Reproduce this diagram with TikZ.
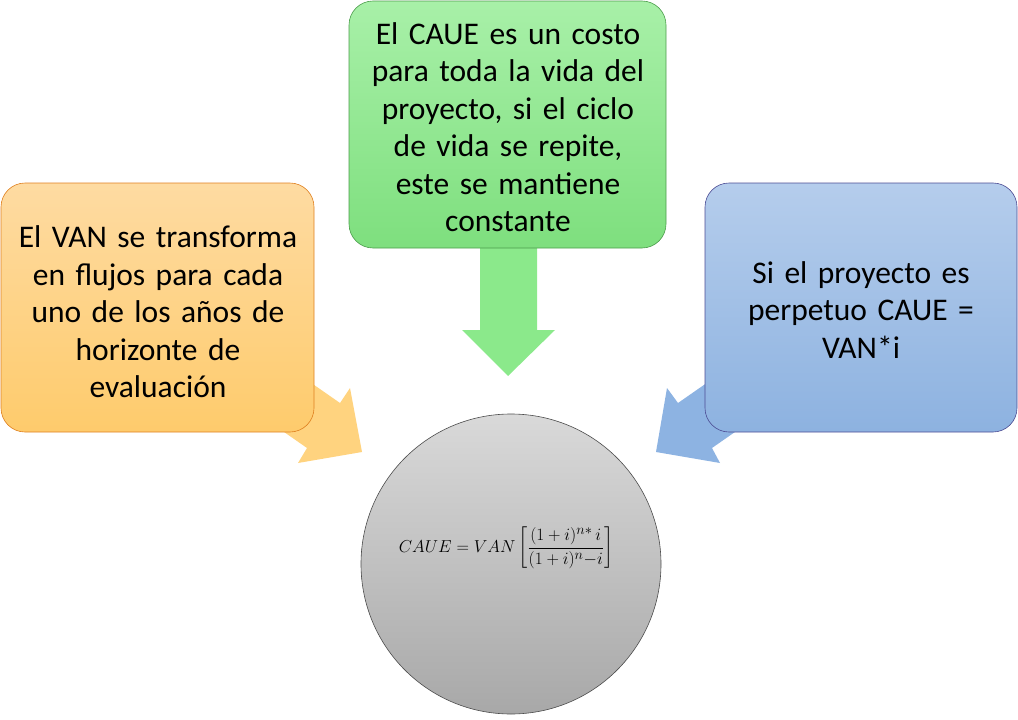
\documentclass[tikz,border=0pt]{standalone}
\usepackage{fontspec}
\setmainfont{Carlito}
\usepackage{amsmath}
\begin{document}
\begin{tikzpicture}[x=1pt,y=-1pt,
  box/.style={rounded corners=24pt, line width=0.6pt, inner sep=0pt},
  boxtext/.style={text width=310pt, align=center, inner sep=0pt,
    font=\fontsize{31.5}{37.5}\selectfont},
  orangebox/.style={box, draw=orange!50!brown, top color=orangetop, bottom color=orangebot},
  greenbox/.style={box, draw=green!45!black!70, top color=greentop, bottom color=greenbot},
  bluebox/.style={box, draw=blue!40!black!70, top color=bluetop, bottom color=bluebot},
]
\definecolor{orangetop}{HTML}{FEDBA2}
\definecolor{orangebot}{HTML}{FECB6C}
\definecolor{greentop}{HTML}{A8F0A8}
\definecolor{greenbot}{HTML}{7EDF7E}
\definecolor{bluetop}{HTML}{B5CDEC}
\definecolor{bluebot}{HTML}{8DB2E0}
\definecolor{orangearr}{HTML}{FFD37F}
\definecolor{greenarr}{HTML}{8BE98B}
\definecolor{bluearr}{HTML}{8DB3E2}
\definecolor{circtop}{HTML}{D9D9D9}
\definecolor{circbot}{HTML}{A8A8A8}
\useasboundingbox (0,0) rectangle (1018,720);
% arrows
\fill[orangearr] (274,357) -- (340,403) -- (350,388) -- (362,452) -- (298,463) -- (307,448) -- (241,402) -- cycle;
\fill[bluearr] (744,357) -- (678,403) -- (667,388) -- (656,452) -- (720,463) -- (712,448) -- (778,402) -- cycle;
\fill[greenarr] (480,240) -- (537,240) -- (537,330) -- (555,330) -- (508,376) -- (462,330) -- (480,330) -- cycle;
% boxes
\node[orangebox, minimum width=313pt, minimum height=249pt] (van) at (157.5,307.5) {};
\node[boxtext] (vantext) at (158,312)
  {El VAN se transforma\\en flujos para cada\\uno de los años de\\horizonte de\\evaluación};
\node[greenbox, minimum width=317pt, minimum height=247pt] (caue) at (507.5,124.5) {};
\node[boxtext] (cauetext) at (508,127)
  {El CAUE es un costo\\para toda la vida del\\proyecto, si el ciclo\\de vida se repite,\\este se mantiene\\constante};
\node[bluebox, minimum width=312pt, minimum height=249pt] (perp) at (861,307.5) {};
\node[boxtext] (perptext) at (861,310)
  {Si el proyecto es\\perpetuo CAUE =\\VAN*i};
% circle
\node[circle, draw=black!70, line width=0.6pt, minimum size=300pt, top color=circtop, bottom color=circbot, inner sep=0pt] (form) at (511,564) {};
\node[inner sep=0pt] (formula) at (506,548)
  {\fontsize{19}{22}\selectfont $CAUE = VAN\left[\dfrac{(1+i)^{n\ast}\,i}{(1+i)^{n}{-}i}\right]$};
\end{tikzpicture}
\end{document}
